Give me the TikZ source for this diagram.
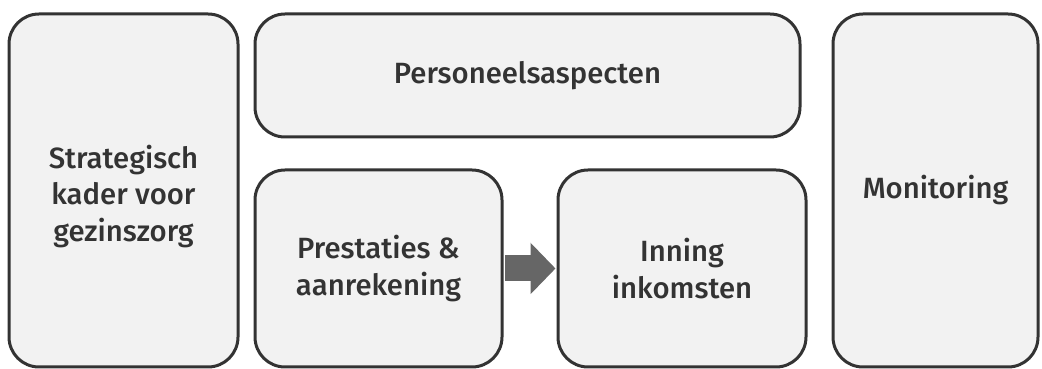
\documentclass[tikz,border=0pt]{standalone}
\usepackage{fontspec}
\setmainfont{Fira Sans}[UprightFont=* Medium]
\usetikzlibrary{arrows.meta}
\definecolor{boxfill}{HTML}{F2F2F2}
\definecolor{boxline}{HTML}{333333}
\definecolor{txt}{HTML}{333333}
\definecolor{arr}{HTML}{666666}
\tikzset{
  lbl/.style={inner sep=0pt, align=center, text=txt, font=\fontsize{29.3}{36.5}\selectfont},
  blk/.style={draw=boxline, fill=boxfill, line width=3pt, rounded corners=30pt, lbl},
}
\begin{document}
\begin{tikzpicture}[x=1pt,y=1pt]
\useasboundingbox (0,0) rectangle (1042,369);
\path[fill=white] (0,0) rectangle (1042,369);
% y_tikz = 369 - y_px
\node[blk, minimum width=229pt, minimum height=353pt,
  label={[lbl, yshift=-6pt]center:Strategisch\\kader voor\\gezinszorg}] (strat) at (123.5,178.5) {};
\node[blk, minimum width=545pt, minimum height=123pt] (pers) at (527.5,293.5) {Personeelsaspecten};
\node[blk, minimum width=247pt, minimum height=197pt] (prest) at (378.5,100.5) {Prestaties \&\\aanrekening};
\node[blk, minimum width=248pt, minimum height=197pt] (inning) at (682,100.5) {Inning\\inkomsten};
\node[blk, minimum width=205pt, minimum height=353pt] (mon) at (935.5,178.5) {Monitoring};
\draw[arr, line width=26pt, -{Triangle[width=50pt,length=25pt]}, shorten <=1.5pt, shorten >=1pt]
  (prest.east) -- (inning.west);
\end{tikzpicture}
\end{document}
